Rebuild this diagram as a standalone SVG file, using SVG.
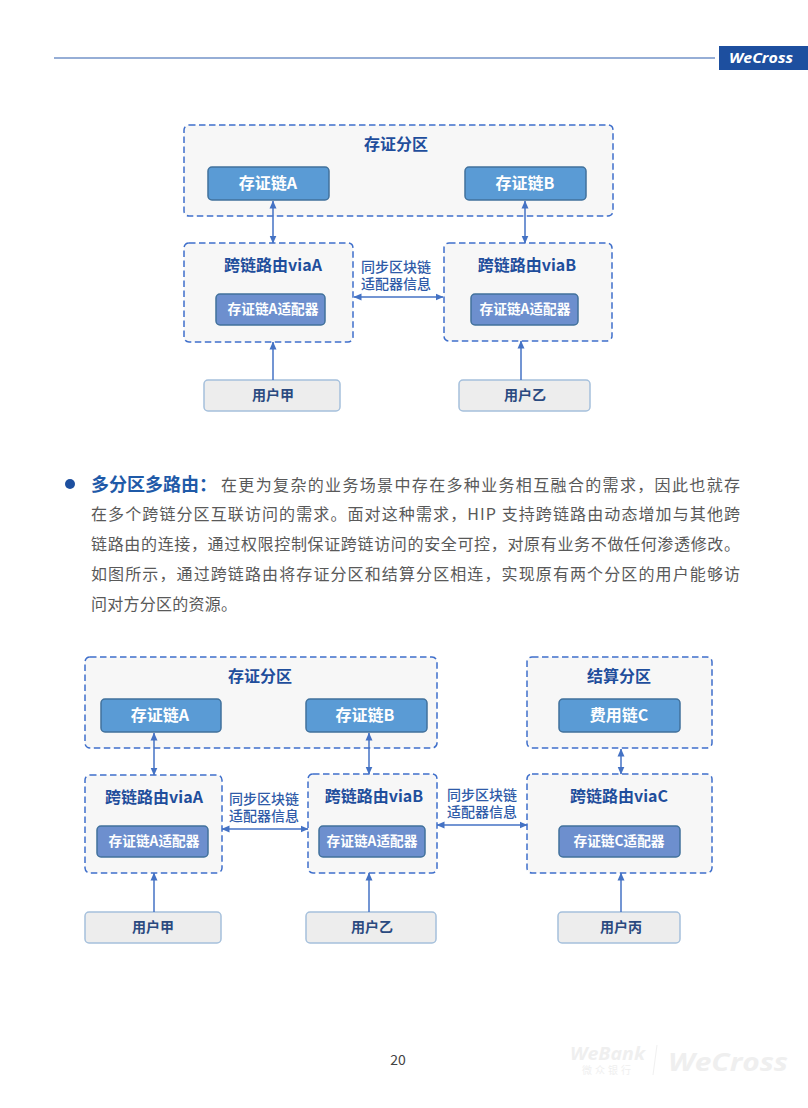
<svg xmlns="http://www.w3.org/2000/svg" width="808" height="1108" viewBox="0 0 808 1108">
<style>
text{font-family:"Noto Sans CJK SC","Noto Sans",sans-serif}
.zone{fill:#f7f7f7;stroke:#3f6fcb;stroke-width:1.5;stroke-dasharray:6.5 3.5}
.chain{fill:#5a9bd5;stroke:#41719c;stroke-width:1.5}
.adapter{fill:#6d8fce;stroke:#41719c;stroke-width:1.5}
.user{fill:#ededed;stroke:#a5c0dc;stroke-width:1.5}
.title{font-size:16px;font-weight:700;fill:#1f4e9c;text-anchor:middle}
.wt{font-size:16px;font-weight:700;fill:#fff;text-anchor:middle}
.at{font-size:13.7px;font-weight:700;fill:#fff;text-anchor:middle}
.ut{font-size:14px;font-weight:700;fill:#2a4a80;text-anchor:middle}
.sync{font-size:14px;font-weight:500;fill:#2f5ba8;text-anchor:middle}
.body{font-size:16px;fill:#595959}
.conn line{stroke:#4472c4;stroke-width:1.5;fill:none}
.logo{font-family:"Open Sans",sans-serif;font-weight:700;font-style:italic}
</style>
<defs>
<marker id="ah" viewBox="0 0 8 8" refX="7.5" refY="4" markerWidth="8" markerHeight="8" markerUnits="userSpaceOnUse" orient="auto-start-reverse"><path d="M0 0.5L8 4L0 7.5Z" fill="#4472c4"/></marker>
</defs>
<g id="header">
<line x1="54" y1="58" x2="715" y2="58" stroke="#7393c8" stroke-width="1.6"/>
<rect x="719" y="46" width="89" height="24" fill="#1d4f9f"/>
<text class="logo" x="729" y="63" font-size="14.5" fill="#fff" textLength="64" lengthAdjust="spacingAndGlyphs">WeCross</text>
</g>
<g id="partition-1"><rect class="zone" x="184" y="125" width="429" height="91" rx="5"/><text class="title" x="396" y="150">存证分区</text></g>
<g id="chain-a-1"><rect class="chain" x="208" y="167" width="121" height="33" rx="4"/><text class="wt" x="268" y="189">存证链A</text></g>
<g id="chain-b-1"><rect class="chain" x="465" y="167" width="121" height="33" rx="4"/><text class="wt" x="525" y="189">存证链B</text></g>
<g id="router-a-1"><rect class="zone" x="184" y="243" width="169" height="99" rx="5"/><text class="title" x="273" y="271">跨链路由viaA</text></g>
<g id="adapter-a-1"><rect class="adapter" x="216" y="294" width="109" height="31" rx="4"/><text class="at" x="273" y="314">存证链A适配器</text></g>
<g id="router-b-1"><rect class="zone" x="444" y="243" width="168" height="98" rx="5"/><text class="title" x="527" y="271">跨链路由viaB</text></g>
<g id="adapter-b-1"><rect class="adapter" x="471" y="294" width="107" height="31" rx="4"/><text class="at" x="525" y="314">存证链A适配器</text></g>
<g id="user-a-1"><rect class="user" x="204" y="380" width="136" height="31" rx="4"/><text class="ut" x="273" y="400">用户甲</text></g>
<g id="user-b-1"><rect class="user" x="459" y="380" width="131" height="31" rx="4"/><text class="ut" x="525" y="400">用户乙</text></g>
<g id="sync-1"><text class="sync"><tspan x="396" y="272">同步区块链</tspan><tspan x="396" y="289">适配器信息</tspan></text></g>
<g id="body">
<circle cx="70" cy="484" r="5" fill="#1d4f9f"/>
<text x="91" y="491" font-size="18" font-weight="700" fill="#1f5aa8" textLength="126">多分区多路由：</text>
<text class="body" x="221" y="491" textLength="519">在更为复杂的业务场景中存在多种业务相互融合的需求，因此也就存</text>
<text class="body" x="91" y="520" textLength="649">在多个跨链分区互联访问的需求。面对这种需求，HIP 支持跨链路由动态增加与其他跨</text>
<text class="body" x="91" y="550" textLength="649">链路由的连接，通过权限控制保证跨链访问的安全可控，对原有业务不做任何渗透修改。</text>
<text class="body" x="91" y="580" textLength="649">如图所示，通过跨链路由将存证分区和结算分区相连，实现原有两个分区的用户能够访</text>
<text class="body" x="91" y="610" textLength="146">问对方分区的资源。</text>
</g>
<g id="partition-2"><rect class="zone" x="85" y="657" width="352" height="91" rx="5"/><text class="title" x="260" y="682">存证分区</text></g>
<g id="settle-2"><rect class="zone" x="527" y="657" width="185" height="91" rx="5"/><text class="title" x="619" y="682">结算分区</text></g>
<g id="chain-a-2"><rect class="chain" x="101" y="699" width="120" height="33" rx="4"/><text class="wt" x="160" y="721">存证链A</text></g>
<g id="chain-b-2"><rect class="chain" x="306" y="699" width="121" height="33" rx="4"/><text class="wt" x="365" y="721">存证链B</text></g>
<g id="chain-c-2"><rect class="chain" x="559" y="699" width="121" height="33" rx="4"/><text class="wt" x="619" y="721">费用链C</text></g>
<g id="router-a-2"><rect class="zone" x="85" y="775" width="137" height="98" rx="5"/><text class="title" x="154" y="803">跨链路由viaA</text></g>
<g id="router-b-2"><rect class="zone" x="308" y="774" width="129" height="99" rx="5"/><text class="title" x="374" y="802">跨链路由viaB</text></g>
<g id="router-c-2"><rect class="zone" x="527" y="774" width="185" height="99" rx="5"/><text class="title" x="619" y="802">跨链路由viaC</text></g>
<g id="adapter-a-2"><rect class="adapter" x="97" y="826" width="111" height="31" rx="4"/><text class="at" x="154" y="846">存证链A适配器</text></g>
<g id="adapter-b-2"><rect class="adapter" x="319" y="826" width="106" height="31" rx="4"/><text class="at" x="372" y="846">存证链A适配器</text></g>
<g id="adapter-c-2"><rect class="adapter" x="559" y="826" width="121" height="31" rx="4"/><text class="at" x="619" y="846">存证链C适配器</text></g>
<g id="user-a-2"><rect class="user" x="85" y="912" width="136" height="31" rx="4"/><text class="ut" x="153" y="932">用户甲</text></g>
<g id="user-b-2"><rect class="user" x="306" y="912" width="130" height="31" rx="4"/><text class="ut" x="372" y="932">用户乙</text></g>
<g id="user-c-2"><rect class="user" x="558" y="912" width="122" height="31" rx="4"/><text class="ut" x="621" y="932">用户丙</text></g>
<g id="sync-2"><text class="sync"><tspan x="264" y="804">同步区块链</tspan><tspan x="264" y="821">适配器信息</tspan></text><text class="sync"><tspan x="482" y="800">同步区块链</tspan><tspan x="482" y="817">适配器信息</tspan></text></g>
<g id="connectors" class="conn">
<line x1="273" y1="201" x2="273" y2="243" marker-start="url(#ah)" marker-end="url(#ah)"/>
<line x1="525" y1="201" x2="525" y2="243" marker-start="url(#ah)" marker-end="url(#ah)"/>
<line x1="354" y1="297" x2="443" y2="297" marker-start="url(#ah)" marker-end="url(#ah)"/>
<line x1="273" y1="380" x2="273" y2="342" marker-end="url(#ah)"/>
<line x1="521" y1="380" x2="521" y2="341" marker-end="url(#ah)"/>
<line x1="154" y1="733" x2="154" y2="775" marker-start="url(#ah)" marker-end="url(#ah)"/>
<line x1="369" y1="733" x2="369" y2="774" marker-start="url(#ah)" marker-end="url(#ah)"/>
<line x1="621" y1="749" x2="621" y2="774" marker-start="url(#ah)" marker-end="url(#ah)"/>
<line x1="222" y1="829" x2="308" y2="829" marker-start="url(#ah)" marker-end="url(#ah)"/>
<line x1="437" y1="825" x2="527" y2="825" marker-start="url(#ah)" marker-end="url(#ah)"/>
<line x1="154" y1="912" x2="154" y2="873" marker-end="url(#ah)"/>
<line x1="369" y1="912" x2="369" y2="873" marker-end="url(#ah)"/>
<line x1="621" y1="912" x2="621" y2="873" marker-end="url(#ah)"/>
</g>
<g id="footer">
<text x="398" y="1065" font-size="14" fill="#444" text-anchor="middle">20</text>
<text class="logo" x="570" y="1060" font-size="18" fill="#efefef" textLength="75" lengthAdjust="spacingAndGlyphs">WeBank</text>
<text x="608" y="1074" font-size="10" fill="#efefef" text-anchor="middle" letter-spacing="3">微众银行</text>
<line x1="657" y1="1045" x2="653" y2="1075" stroke="#f0f0f0"/>
<text class="logo" x="668" y="1071" font-size="25" fill="#efefef" textLength="120" lengthAdjust="spacingAndGlyphs">WeCross</text>
</g>
</svg>
